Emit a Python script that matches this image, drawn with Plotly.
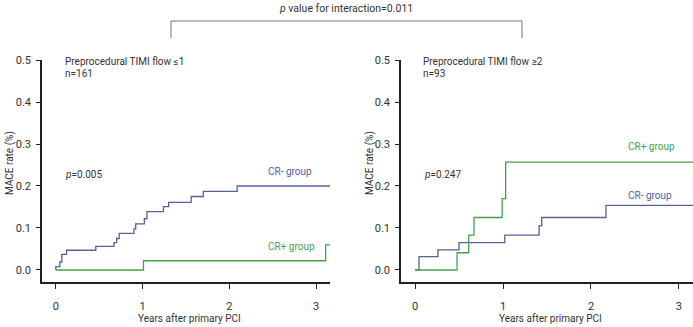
import plotly.graph_objects as go

W, H = 693, 327

# ---- data (years, cumulative MACE rate) ----
left_crneg_x = [0.0, 0.0, 0.046, 0.069, 0.123, 0.46, 0.67, 0.70, 0.73, 0.90, 0.92, 1.02, 1.05, 1.24, 1.30, 1.56, 1.70, 2.09, 3.16]
left_crneg_y = [0.0, 0.008, 0.019, 0.037, 0.047, 0.056, 0.065, 0.075, 0.087, 0.098, 0.110, 0.122, 0.139, 0.151, 0.161, 0.175, 0.187, 0.200, 0.200]
left_crpos_x = [0.0, 1.01, 3.11, 3.16]
left_crpos_y = [0.0, 0.022, 0.060, 0.060]

right_crneg_x = [0.0, 0.045, 0.26, 0.50, 1.02, 1.41, 1.44, 2.17, 3.16]
right_crneg_y = [0.0, 0.032, 0.048, 0.065, 0.083, 0.105, 0.125, 0.154, 0.154]
right_crpos_x = [0.0, 0.477, 0.61, 0.67, 0.99, 1.03, 3.16]
right_crpos_y = [0.0, 0.041, 0.083, 0.125, 0.170, 0.257, 0.257]

x_ticks = [0, 1, 2, 3]
y_ticks = [0.0, 0.1, 0.2, 0.3, 0.4, 0.5]
y_ticklabels = ["0.0", "0.1", "0.2", "0.3", "0.4", "0.5"]

BLUE = "#55619a"
GREEN = "#4aa04a"
TEXT = "#333333"
FONT = "Roboto, sans-serif"

def px(x):
    return x / W

def py(y):
    return 1 - y / H

fig = go.Figure()
fig.add_trace(go.Scatter(x=left_crneg_x, y=left_crneg_y, mode="lines", line=dict(color=BLUE, width=1.3, shape="hv"), xaxis="x", yaxis="y", showlegend=False))
fig.add_trace(go.Scatter(x=left_crpos_x, y=left_crpos_y, mode="lines", line=dict(color=GREEN, width=1.3, shape="hv"), xaxis="x", yaxis="y", showlegend=False))
fig.add_trace(go.Scatter(x=right_crneg_x, y=right_crneg_y, mode="lines", line=dict(color=BLUE, width=1.3, shape="hv"), xaxis="x2", yaxis="y2", showlegend=False))
fig.add_trace(go.Scatter(x=right_crpos_x, y=right_crpos_y, mode="lines", line=dict(color=GREEN, width=1.3, shape="hv"), xaxis="x2", yaxis="y2", showlegend=False))

xcommon = dict(range=[-0.16, 3.16], tickvals=x_ticks, ticks="outside", ticklen=5, tickwidth=1, tickcolor="#222",
               showline=True, linecolor="#222", linewidth=1.5, showgrid=False, zeroline=False, automargin=False,
               tickfont=dict(family=FONT, size=11, color=TEXT), ticklabelstandoff=8)
ycommon = dict(range=[-0.0286, 0.5], tickvals=y_ticks, ticktext=y_ticklabels, ticks="outside", ticklen=4, tickwidth=1,
               tickcolor="#222", showline=True, linecolor="#222", linewidth=1.5, showgrid=False, zeroline=False,
               automargin=False, tickfont=dict(family=FONT, size=11, color=TEXT), ticklabelstandoff=3)

ydom = [py(282), py(60)]
fig.update_layout(
    width=W, height=H, margin=dict(l=0, r=0, t=0, b=0, autoexpand=False),
    paper_bgcolor="white", plot_bgcolor="white",
    xaxis=dict(domain=[px(42), px(330)], anchor="y", **xcommon),
    yaxis=dict(domain=ydom, anchor="x", **ycommon),
    xaxis2=dict(domain=[px(401), 1.0], anchor="y2", **xcommon),
    yaxis2=dict(domain=ydom, anchor="x2", **ycommon),
)

def ann(text, x, y, color=TEXT, size=10, xanchor="left", angle=0):
    fig.add_annotation(text=text, x=px(x), y=py(y), xref="paper", yref="paper", showarrow=False,
                       xanchor=xanchor, yanchor="middle", textangle=angle,
                       font=dict(family=FONT, size=size, color=color))

# panel texts
ann("Preprocedural TIMI flow ≤1", 63, 61)
ann("n=161", 63, 73)
ann("<i>p</i>=0.005", 63, 174)
ann("CR- group", 266, 171, color=BLUE)
ann("CR+ group", 266, 247, color=GREEN)

ann("Preprocedural TIMI flow ≥2", 421, 61)
ann("n=93", 421, 73)
ann("<i>p</i>=0.247", 422, 174)
ann("CR+ group", 626, 146, color=GREEN)
ann("CR- group", 626, 195, color=BLUE)

# axis titles
ann("Years after primary PCI", 189, 318, xanchor="center")
ann("Years after primary PCI", 550, 318, xanchor="center")
ann("MACE rate (%)", 10, 163, xanchor="center", angle=-90)
ann("MACE rate (%)", 370, 163, xanchor="center", angle=-90)

# interaction bracket
ann("<i>p</i> value for interaction=0.011", 346, 8, xanchor="center", size=10.5)
for (x0, y0, x1, y1) in [(171, 21, 522, 21), (171, 21, 171, 38), (522, 21, 522, 38)]:
    fig.add_shape(type="line", xref="paper", yref="paper", x0=px(x0), y0=py(y0), x1=px(x1), y1=py(y1),
                  line=dict(color="#777777", width=1))

fig.write_html("out.html", config={"displayModeBar": False},
               post_script="document.body.style.margin='0';document.body.style.overflow='hidden';")
